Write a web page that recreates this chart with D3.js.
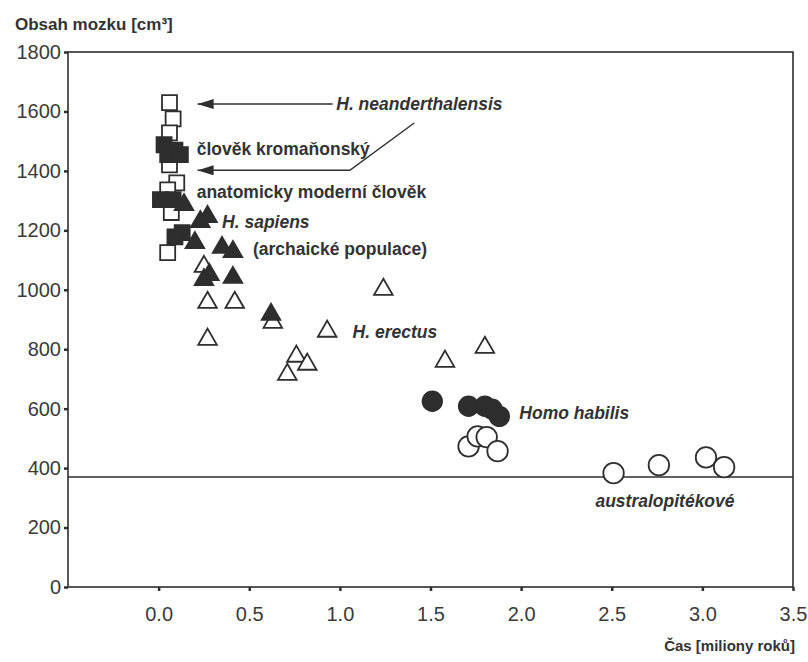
<!DOCTYPE html>
<html>
<head>
<meta charset="utf-8">
<script src="https://cdn.jsdelivr.net/npm/d3@7"></script>
<style>
  body { margin: 0; background: #fff; }
  svg { display: block; }
  text { font-family: "Liberation Sans", Arial, sans-serif; fill: #333; }
  .lbl { font-weight: bold; font-size: 17.5px; }
  .it { font-style: italic; }
  .axis text { font-size: 20px; fill: #3a3a3a; }
</style>
</head>
<body>
<svg id="chart" width="808" height="662"></svg>
<script>
// tick values
const xTicks = [0, 0.5, 1, 1.5, 2, 2.5, 3, 3.5];
const yTicks = [0, 200, 400, 600, 800, 1000, 1200, 1400, 1600, 1800];

// [time in Myr, brain volume cm3]
const openSquares = [[0.06, 1630], [0.08, 1575], [0.06, 1528], [0.06, 1420], [0.10, 1360], [0.05, 1336], [0.07, 1260], [0.05, 1125]];
const filledSquares = [[0.03, 1488], [0.09, 1470], [0.05, 1455], [0.12, 1455], [0.01, 1303], [0.08, 1303], [0.13, 1192], [0.09, 1178]];
const filledTriangles = [[0.14, 1286], [0.27, 1246], [0.23, 1229], [0.20, 1158], [0.35, 1142], [0.41, 1128], [0.28, 1051], [0.25, 1034], [0.41, 1041], [0.62, 917]];
const openTriangles = [[0.25, 1078], [0.27, 957], [0.42, 957], [0.27, 833], [0.63, 890], [0.76, 776], [0.82, 749], [0.71, 715], [0.93, 860], [1.24, 1001], [1.58, 759], [1.80, 806]];
const filledCircles = [[1.51, 625], [1.71, 608], [1.80, 608], [1.84, 598], [1.88, 574]];
const openCircles = [[1.71, 473], [1.76, 507], [1.81, 504], [1.87, 457], [2.51, 383], [2.76, 410], [3.02, 436], [3.12, 403]];
const baseline = 370;

// annotations: [x, y, text, italic]
const labels = [
  [0.98, 1605, "H. neanderthalensis", true],
  [0.21, 1454, "člověk kromaňonský", false],
  [0.21, 1310, "anatomicky moderní člověk", false],
  [0.35, 1209, "H. sapiens", true],
  [0.52, 1118, "(archaické populace)", false],
  [1.07, 839, "H. erectus", true],
  [1.99, 564, "Homo habilis", true],
  [2.41, 269, "australopitékové", true]
];
const arrows = [
  [[0.96, 1625], [0.215, 1625]],
  [[1.41, 1561], [1.055, 1402], [0.215, 1402]]
];

const svg = d3.select("#chart");
const x = d3.scaleLinear().domain([-0.5, 3.5]).range([68, 793]);
const y = d3.scaleLinear().domain([0, 1800]).range([587, 52]);
const ink = "#2e2e2e";

svg.append("defs").append("marker")
  .attr("id", "head")
  .attr("viewBox", "0 0 16 10")
  .attr("refX", 16).attr("refY", 5)
  .attr("markerWidth", 16).attr("markerHeight", 10)
  .attr("markerUnits", "userSpaceOnUse")
  .attr("orient", "auto")
  .append("path").attr("d", "M0,0L16,5L0,10Z").attr("fill", ink);

// axes
svg.append("g").attr("class", "axis")
  .attr("transform", `translate(${x(-0.5)},0)`)
  .call(d3.axisLeft(y).tickValues(yTicks).tickFormat(d3.format("d")).tickSize(4).tickSizeOuter(0).tickPadding(3))
  .call(g => g.select(".domain").remove())
  .call(g => g.selectAll("line").attr("stroke", ink).attr("stroke-width", 2.5));

svg.append("g").attr("class", "axis")
  .attr("transform", `translate(0,${y(0)})`)
  .call(d3.axisBottom(x).tickValues(xTicks).tickFormat(d3.format(".1f")).tickSize(4).tickSizeOuter(0).tickPadding(16))
  .call(g => g.select(".domain").remove())
  .call(g => g.selectAll("line").attr("stroke", ink).attr("stroke-width", 2.5));

// frame
svg.append("rect")
  .attr("x", x(-0.5)).attr("y", y(1800))
  .attr("width", x(3.5) - x(-0.5)).attr("height", y(0) - y(1800))
  .attr("fill", "none").attr("stroke", ink).attr("stroke-width", 1.6);

svg.append("line")
  .attr("x1", x(-0.5)).attr("x2", x(3.5))
  .attr("y1", y(baseline)).attr("y2", y(baseline))
  .attr("stroke", ink).attr("stroke-width", 1.6);

// arrows
const line = d3.line().x(d => x(d[0])).y(d => y(d[1]));
svg.selectAll(".arrow").data(arrows).enter().append("path")
  .attr("class", "arrow")
  .attr("d", line)
  .attr("fill", "none").attr("stroke", ink).attr("stroke-width", 1.4)
  .attr("marker-end", "url(#head)");

// markers
function drawSymbols(data, type, size, filled) {
  svg.append("g").selectAll("path").data(data).enter().append("path")
    .attr("transform", d => `translate(${x(d[0])},${y(d[1])})`)
    .attr("d", d3.symbol().type(type).size(size))
    .attr("fill", filled ? ink : "#fff")
    .attr("stroke", ink)
    .attr("stroke-width", 1.8);
}
drawSymbols(openSquares, d3.symbolSquare, 225, false);
drawSymbols(filledSquares, d3.symbolSquare, 225, true);
drawSymbols(openTriangles, d3.symbolTriangle, 150, false);
drawSymbols(filledTriangles, d3.symbolTriangle, 150, true);
drawSymbols(openCircles, d3.symbolCircle, 330, false);
drawSymbols(filledCircles, d3.symbolCircle, 300, true);

// text
svg.selectAll(".lbl-a").data(labels).enter().append("text")
  .attr("class", d => d[3] ? "lbl it" : "lbl")
  .attr("x", d => x(d[0])).attr("y", d => y(d[1]))
  .text(d => d[2]);

svg.append("text").attr("class", "lbl").attr("x", 15).attr("y", 30)
  .style("font-size", "17px").text("Obsah mozku [cm³]");
svg.append("text").attr("class", "lbl").attr("x", 795).attr("y", 651)
  .style("font-size", "15px").attr("text-anchor", "end").text("Čas [miliony roků]");
</script>
</body>
</html>
